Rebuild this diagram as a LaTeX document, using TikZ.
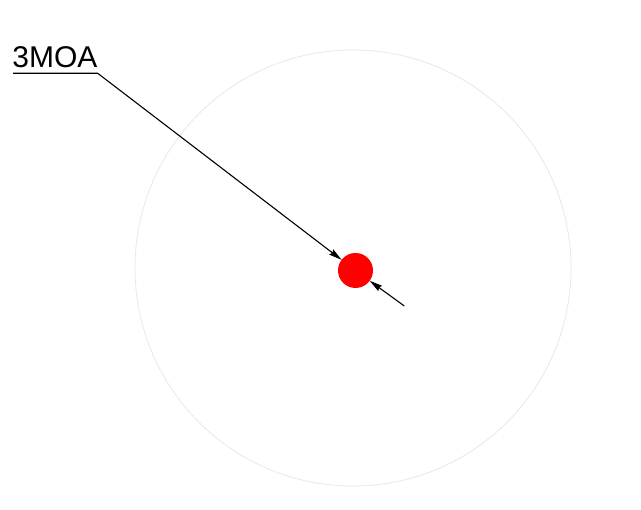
\documentclass[tikz,border=0pt]{standalone}
\usepackage{fontspec}
\setmainfont{Liberation Sans}
\usetikzlibrary{arrows.meta}
\begin{document}
\begin{tikzpicture}[x=1pt,y=1pt,
  leader/.style={draw=black,line width=1.1pt,-{Stealth[length=13pt,width=6.5pt,inset=1.5pt]}},
  reddot/.style={circle,fill=red,draw=none,minimum size=35pt,inner sep=0pt,outer sep=0pt},
  ring/.style={draw=black!9,line width=0.8pt}]
\useasboundingbox (0,0) rectangle (641,510);
\fill[white] (0,0) rectangle (641,510);
\draw[ring] (353,242) circle (218);
\node[reddot] (dot) at (355.5,239.5) {};
\node[font=\fontsize{30}{36}\selectfont,inner sep=0pt,anchor=base west] (lbl) at (12.2,442.3) {3MOA};
\coordinate (ula) at (13,436.7);
\coordinate (ulb) at (97.7,436.7);
\coordinate (tail) at (404.3,204);
\draw[leader] (ula) -- (ulb) -- (dot);
\draw[leader] (tail) -- (dot);
\end{tikzpicture}
\end{document}
